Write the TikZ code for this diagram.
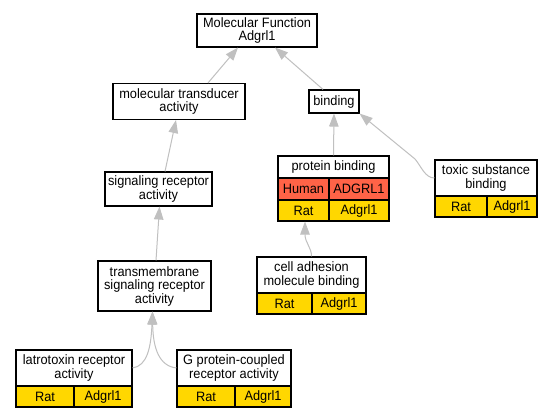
\documentclass[tikz,border=0pt]{standalone}
\usepackage{fontspec}
\setmainfont{Liberation Sans}[FakeStretch=0.94]
\usetikzlibrary{arrows.meta}
\definecolor{edgegray}{RGB}{192,192,192}
\definecolor{ratyellow}{RGB}{255,215,0}
\definecolor{humanred}{RGB}{255,99,71}
\begin{document}
\begin{tikzpicture}[x=1pt,y=-1pt,
  box/.style={draw=black, line width=1.1pt, fill=white, inner sep=0pt, align=center,
    font=\fontsize{13.6}{13.5}\selectfont},
  rat/.style={box, fill=ratyellow},
  human/.style={box, fill=humanred},
  edge/.style={draw=edgegray, line width=1pt, -{Triangle[length=13pt,width=9.5pt]}}]
\path[use as bounding box, fill=white] (0,0) rectangle (552,419);

% plain terms
\node[box, minimum width=120pt, minimum height=33pt] (mf) at (257,30.5) {Molecular Function\\Adgrl1};
\node[box, minimum width=132pt, minimum height=36pt] (tr) at (179,101.5) {molecular transducer\\activity};
\node[box, minimum width=50pt, minimum height=23pt] (bd) at (334,101.5) {binding};
\node[box, minimum width=107pt, minimum height=34pt] (sig) at (158.5,189) {signaling receptor\\activity};
\node[box, minimum width=113pt, minimum height=50pt] (tm) at (154.5,286) {transmembrane\\signaling receptor\\activity};

% protein binding table
\node[box, minimum width=111pt, minimum height=22pt] (pbh) at (333.5,167) {protein binding};
\node[human, minimum width=51pt, minimum height=22pt] (pbh1) at (303.5,189) {Human};
\node[human, minimum width=60pt, minimum height=22pt] (pbh2) at (359,189) {ADGRL1};
\node[rat, minimum width=51pt, minimum height=21pt] (pbr1) at (303.5,210.5) {Rat};
\node[rat, minimum width=60pt, minimum height=21pt] (pbr2) at (359,210.5) {Adgrl1};

% toxic substance binding
\node[box, minimum width=102pt, minimum height=36pt] (tsh) at (486,178) {toxic substance\\binding};
\node[rat, minimum width=52pt, minimum height=21pt] (tsr1) at (461,206.5) {Rat};
\node[rat, minimum width=50pt, minimum height=21pt] (tsr2) at (512,206.5) {Adgrl1};

% cell adhesion molecule binding
\node[box, minimum width=109pt, minimum height=36pt] (cah) at (311.5,275) {cell adhesion\\molecule binding};
\node[rat, minimum width=55pt, minimum height=21pt] (car1) at (284.5,303.5) {Rat};
\node[rat, minimum width=54pt, minimum height=21pt] (car2) at (339,303.5) {Adgrl1};

% latrotoxin receptor activity
\node[box, minimum width=116pt, minimum height=36pt] (lth) at (74,368) {latrotoxin receptor\\activity};
\node[rat, minimum width=58pt, minimum height=21pt] (ltr1) at (45,396.5) {Rat};
\node[rat, minimum width=58pt, minimum height=21pt] (ltr2) at (103,396.5) {Adgrl1};

% G protein-coupled receptor activity
\node[box, minimum width=114pt, minimum height=36pt] (gph) at (234,368) {G protein-coupled\\receptor activity};
\node[rat, minimum width=58pt, minimum height=21pt] (gpr1) at (206,396.5) {Rat};
\node[rat, minimum width=56pt, minimum height=21pt] (gpr2) at (263,396.5) {Adgrl1};

% edges
\draw[edge] ([xshift=29pt]tr.north) -- ([xshift=-19pt]mf.south);
\draw[edge] ([xshift=-11pt]bd.north) -- ([xshift=18pt]mf.south);
\draw[edge] (pbh.north) -- (bd.south);
\draw[edge] (tsh.west) .. controls (425,178) and (421,166) .. (415,159) -- (bd.south east);
\draw[edge] (cah.north) .. controls (311.5,247) and (305,243) .. ([xshift=1.5pt]pbr1.south);
\draw[edge] ([xshift=1.5pt]tm.north) -- ([xshift=1pt]sig.south);
\draw[edge] ([xshift=6.5pt]sig.north) -- ([xshift=-3pt]tr.south);
\draw[edge] (lth.east) .. controls (147,366) and (151,348) .. ([xshift=-2pt]tm.south);
\draw[edge] (gph.west) .. controls (159,366) and (153,348) .. ([xshift=-2pt]tm.south);
\end{tikzpicture}
\end{document}
